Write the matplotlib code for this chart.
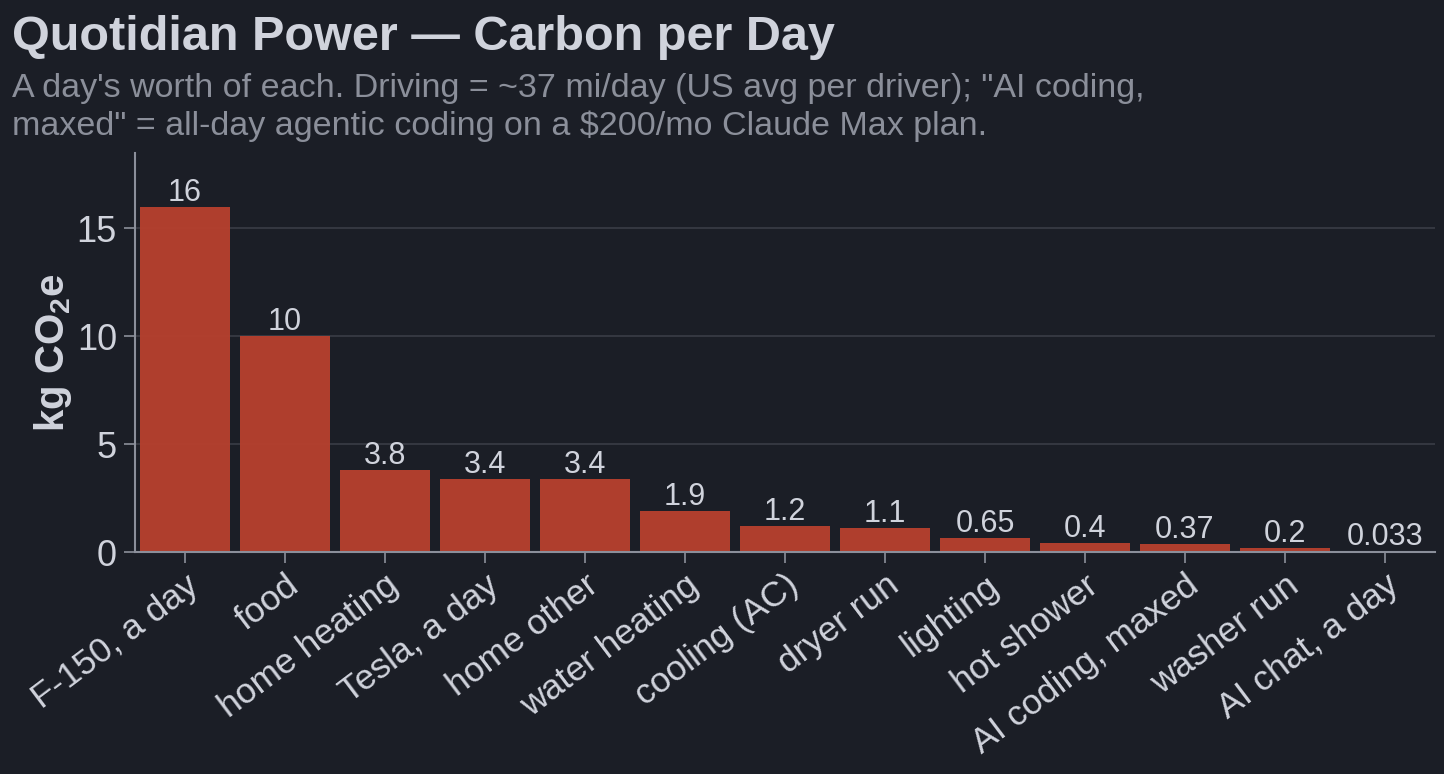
import matplotlib.pyplot as plt
import numpy as np

plt.rcParams['font.family'] = ['Liberation Sans', 'DejaVu Sans']
plt.rcParams['mathtext.default'] = 'regular'

categories = ["F-150, a day", "food", "home heating", "Tesla, a day", "home other",
              "water heating", "cooling (AC)", "dryer run", "lighting", "hot shower",
              "AI coding, maxed", "washer run", "AI chat, a day"]
values = [16, 10, 3.8, 3.4, 3.4, 1.9, 1.2, 1.1, 0.65, 0.4, 0.37, 0.2, 0.033]
value_labels = ["16", "10", "3.8", "3.4", "3.4", "1.9", "1.2", "1.1", "0.65", "0.4", "0.37", "0.2", "0.033"]
y_ticks = [0, 5, 10, 15]

bg = '#1b1e26'
text_col = '#d0d3dc'
sub_col = '#8b8f9a'
axis_col = '#8b8f9a'
grid_col = '#3a3d46'
bar_col = '#b8402e'

fig = plt.figure(figsize=(14.44, 7.74), dpi=100, facecolor=bg)
ax = fig.add_axes([135/1444, 1 - 552/774, 1300/1444, 399/774], facecolor=bg)

x = np.arange(len(categories))
ax.set_axisbelow(True)
ax.yaxis.grid(True, color=grid_col, linewidth=1.2)
ax.bar(x, values, width=0.9, color=bar_col, alpha=0.95, zorder=2)

# value labels sit right on top of each bar
for xi, v, lab in zip(x, values, value_labels):
    ax.text(xi, v - 0.05, lab, ha='center', va='bottom', color=text_col, fontsize=22, zorder=3)

ax.set_xlim(-0.5, 12.5)
ax.set_ylim(0, 18.5)
ax.set_yticks(y_ticks)
ax.set_xticks(x)
ax.set_xticklabels(categories, rotation=37, ha='right', rotation_mode='anchor', fontsize=25.5, color=text_col)
ax.tick_params(axis='y', labelsize=26, labelcolor=text_col, color=axis_col, length=8, width=1.2, pad=5)
ax.tick_params(axis='x', color=axis_col, length=8, width=1.2, pad=4)

for s in ['top', 'right']:
    ax.spines[s].set_visible(False)
for s in ['left', 'bottom']:
    ax.spines[s].set_color(axis_col)
    ax.spines[s].set_linewidth(1.5)

ax.set_ylabel(r"kg CO$_{2}$e", fontsize=29, fontweight='bold', color=text_col, labelpad=2)

fig.text(12/1444, 1 - 37/774, "Quotidian Power — Carbon per Day", fontsize=35, fontweight='bold',
         color=text_col, va='center', ha='left')
fig.text(12/1444, 1 - 73/774,
         "A day's worth of each. Driving = ~37 mi/day (US avg per driver); \"AI coding,\n"
         "maxed\" = all-day agentic coding on a $200/mo Claude Max plan.",
         fontsize=24.5, color=sub_col, va='top', ha='left', linespacing=1.25)

fig.savefig('out.png', dpi=100, facecolor=bg)
